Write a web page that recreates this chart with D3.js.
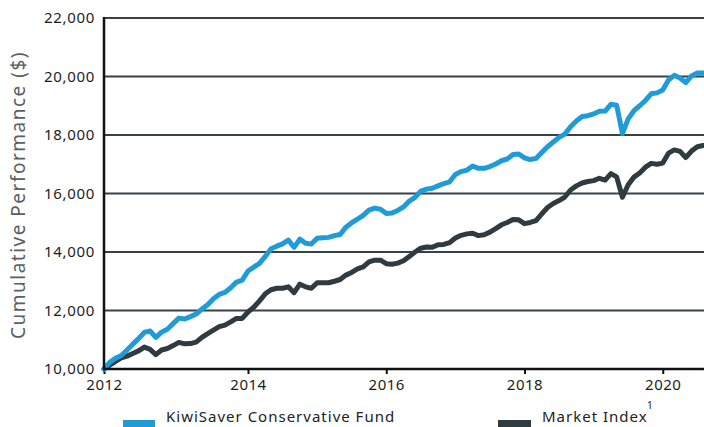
<!DOCTYPE html>
<html>
<head>
<meta charset="utf-8">
<script src="https://cdn.jsdelivr.net/npm/d3@7"></script>
<style>
  html, body { margin: 0; padding: 0; background: #fff; }
  svg { display: block; }
  text { font-family: "Noto Sans", "DejaVu Sans", sans-serif; }
</style>
</head>
<body>
<svg id="chart" width="704" height="427"></svg>
<script>
// ---- Data (monthly, starting Dec 2011 = 10,000) ----
const startYear = 2011 + 11 / 12;   // Dec 2011
const seriesNames = ["KiwiSaver Conservative Fund", "Market Index"];
const fundValues = [
  10000, 10230, 10370, 10460, 10650, 10850, 11040, 11250, 11300, 11080,
  11260, 11360, 11550, 11740, 11710, 11790, 11880, 12050, 12200, 12400,
  12550, 12620, 12780, 12970, 13040, 13350, 13480, 13610, 13850, 14110,
  14200, 14280, 14410, 14160, 14440, 14300, 14270, 14470, 14490, 14500,
  14560, 14600, 14850, 15000, 15120, 15250, 15430, 15500, 15460, 15320,
  15330, 15420, 15540, 15740, 15870, 16080, 16150, 16180, 16260, 16340,
  16400, 16650, 16750, 16800, 16940, 16860, 16860, 16920, 17010, 17120,
  17180, 17330, 17350, 17220, 17160, 17200, 17400, 17600, 17760, 17920,
  18030, 18280, 18480, 18630, 18660, 18720, 18810, 18820, 19050, 19020,
  18050, 18550, 18830, 19000, 19180, 19410, 19440, 19540, 19880, 20040,
  19950, 19790, 20020, 20120, 20120
];
const indexValues = [
  10000, 10130, 10260, 10380, 10440, 10530, 10620, 10750, 10670, 10490,
  10650, 10700, 10800, 10910, 10860, 10870, 10920, 11080, 11210, 11330,
  11450, 11500, 11610, 11730, 11730, 11950, 12110, 12330, 12570, 12710,
  12760, 12760, 12810, 12610, 12900, 12810, 12760, 12950, 12950, 12950,
  13000, 13060, 13210, 13300, 13420, 13490, 13660, 13720, 13720, 13600,
  13580, 13620, 13700, 13850, 14000, 14130, 14170, 14160, 14250, 14260,
  14320, 14480, 14570, 14620, 14640, 14560, 14590, 14680, 14800, 14930,
  15010, 15110, 15100, 14970, 15010, 15070, 15300, 15520, 15660, 15760,
  15880, 16120, 16260, 16360, 16410, 16440, 16520, 16460, 16680, 16570,
  15870, 16300, 16560, 16700, 16900, 17030, 17000, 17040, 17380, 17490,
  17440, 17230, 17450, 17600, 17640
];
const yTicks = [10000, 12000, 14000, 16000, 18000, 20000, 22000];
const xTickValues = [startYear, 2014, 2016, 2018, 2020];
const xTickLabels = ["2012", "2014", "2016", "2018", "2020"];
const yAxisTitle = "Cumulative Performance ($)";

// ---- Layout ----
const svg = d3.select("#chart");
const pL = 104, pR = 704, pT = 18, pB = 369;
const x = d3.scaleLinear().domain([startYear, 2020.597]).range([pL, pR]);
const y = d3.scaleLinear().domain([10000, 22000]).range([pB, pT]);

const fund = fundValues.map((v, i) => ({ t: startYear + i / 12, v }));
const idx = indexValues.map((v, i) => ({ t: startYear + i / 12, v }));

// gridlines
svg.append("g").selectAll("line")
  .data(yTicks.filter(d => d > 10000))
  .join("line")
  .attr("x1", pL).attr("x2", pR)
  .attr("y1", d => y(d)).attr("y2", d => y(d))
  .attr("stroke", "#36414a").attr("stroke-width", 2);

// y tick labels
const yAxis = svg.append("g")
  .attr("transform", `translate(${pL},0)`)
  .call(d3.axisLeft(y).tickValues(yTicks).tickSize(0).tickPadding(9)
        .tickFormat(d3.format(",")));
yAxis.select(".domain").remove();
yAxis.selectAll("text").attr("font-size", 15).attr("fill", "#1d1d1d")
  .attr("letter-spacing", 0.7)
  .attr("font-family", "\"Noto Sans\", sans-serif");

// x axis ticks and labels
const xAxis = svg.append("g")
  .attr("transform", `translate(0,${pB})`)
  .call(d3.axisBottom(x).tickValues(xTickValues).tickSize(5).tickPadding(5)
        .tickFormat((d, i) => xTickLabels[i]));
xAxis.select(".domain").remove();
xAxis.selectAll("line").attr("stroke", "#111").attr("stroke-width", 2);
xAxis.selectAll("text").attr("font-size", 15).attr("fill", "#1d1d1d")
  .attr("letter-spacing", 0.5)
  .attr("font-family", "\"Noto Sans\", sans-serif");

// lines
const line = d3.line().x(d => x(d.t)).y(d => y(d.v));
svg.append("path").datum(idx)
  .attr("d", line).attr("fill", "none")
  .attr("stroke", "#2f3a41").attr("stroke-width", 5)
  .attr("stroke-linejoin", "round").attr("stroke-linecap", "round");
svg.append("path").datum(fund)
  .attr("d", line).attr("fill", "none")
  .attr("stroke", "#1f9cd8").attr("stroke-width", 5)
  .attr("stroke-linejoin", "round").attr("stroke-linecap", "round");

// axis lines
svg.append("line").attr("x1", pL).attr("x2", pL)
  .attr("y1", pT - 1).attr("y2", pB + 1)
  .attr("stroke", "#111").attr("stroke-width", 2.5);
svg.append("line").attr("x1", pL - 1).attr("x2", pR)
  .attr("y1", pB).attr("y2", pB)
  .attr("stroke", "#111").attr("stroke-width", 2.5);

// y axis title
svg.append("text")
  .attr("transform", `translate(25,195) rotate(-90)`)
  .attr("text-anchor", "middle")
  .attr("font-size", 19).attr("fill", "#5a5f63")
  .attr("letter-spacing", 1.5)
  .text(yAxisTitle);

// legend
const legendColors = ["#1f9cd8", "#2f3a41"];
const legendX = [123, 498];
const lg = svg.append("g");
seriesNames.forEach((name, i) => {
  lg.append("rect").attr("x", legendX[i]).attr("y", 420)
    .attr("width", i === 0 ? 32 : 33).attr("height", 9)
    .attr("fill", legendColors[i]);
  lg.append("text").attr("x", legendX[i] + (i === 0 ? 43 : 44)).attr("y", 422)
    .attr("font-size", 15).attr("letter-spacing", 1)
    .attr("fill", "#222").text(name);
});
svg.append("text").attr("x", 647).attr("y", 409)
  .attr("font-size", 10).attr("fill", "#222").text("1");
</script>
</body>
</html>
